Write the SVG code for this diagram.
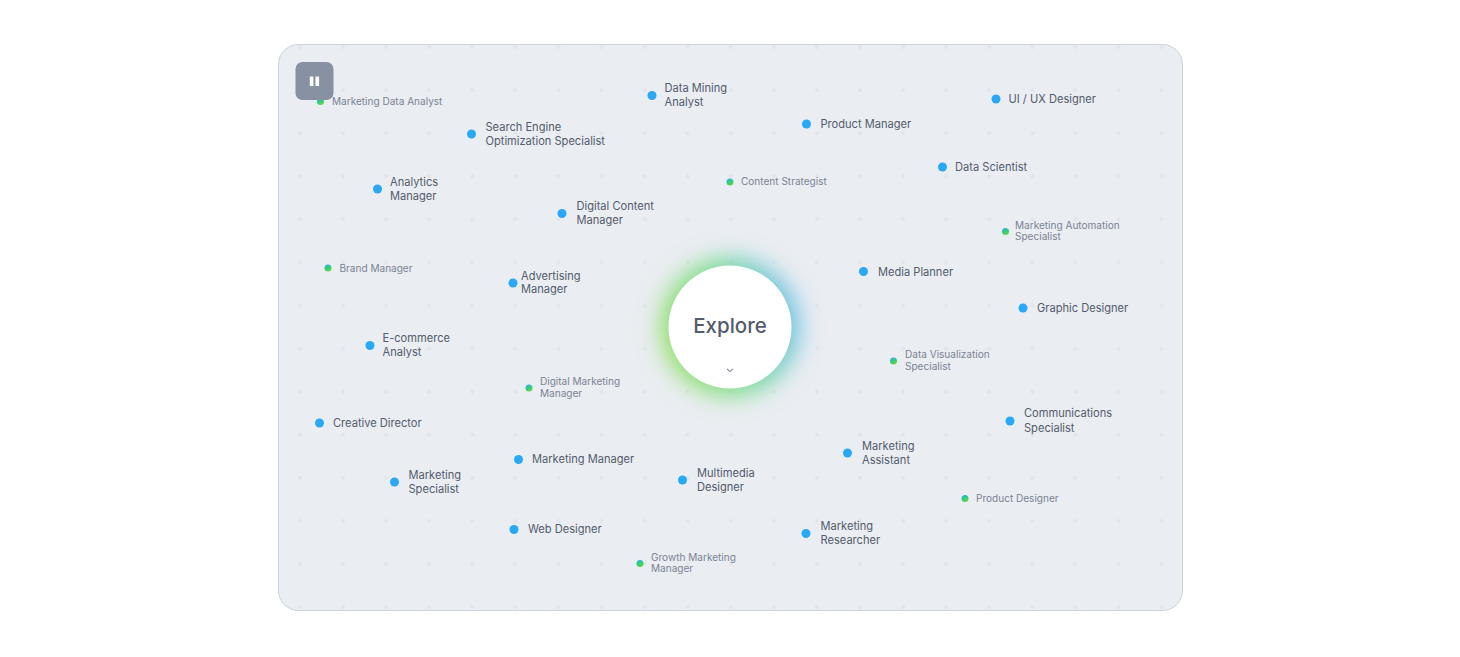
<svg xmlns="http://www.w3.org/2000/svg" width="1460" height="657" viewBox="0 0 1460 657">
<style>
text{font-family:"Inter","Roboto",sans-serif}
.b{font-size:11.1px;fill:#535c6c}
.s{font-size:10.05px;fill:#7b8494}
.d{fill:#2ba8f5}
.g{fill:url(#dg)}
</style>
<defs>
<pattern id="grid" patternUnits="userSpaceOnUse" x="278.5" y="25.5" width="43.08" height="43.08"><circle cx="21.5" cy="21.5" r="1.9" fill="#e1e4ea"/></pattern>
<linearGradient id="dg" x1="0.2" y1="0" x2="0.8" y2="1"><stop offset="0" stop-color="#2bb0e8"/><stop offset=".55" stop-color="#36d070"/><stop offset="1" stop-color="#6fd63c"/></linearGradient>
<linearGradient id="glow" x1="0" y1="0.7" x2="1" y2="0.4"><stop offset="0" stop-color="#8fe04f"/><stop offset=".55" stop-color="#6fdb8f"/><stop offset="1" stop-color="#5cb8f0"/></linearGradient>
<filter id="blur" x="-40%" y="-40%" width="180%" height="180%"><feGaussianBlur stdDeviation="12"/></filter>
</defs>
<g id="panel"><rect x="278.500" y="44.500" width="904" height="566" rx="20" fill="#eaedf2" stroke="#ccd1dd"/><rect x="279" y="45" width="903" height="565" rx="20" fill="url(#grid)"/></g>
<g id="connectors"/>
<g id="center"><circle cx="730" cy="327" r="68" fill="url(#glow)" filter="url(#blur)"/><circle cx="730" cy="327" r="61.500" fill="#fff"/><text x="730" y="333" text-anchor="middle" style="font-size:20.500px;font-weight:500;fill:#535c6c">Explore</text><path d="M727 368.800l3 2.800 3-2.800" fill="none" stroke="#7b8494" stroke-width="1.100"/></g>
<g id="n1"><circle class="g" cx="320.500" cy="101.500" r="3.500"/><text class="s" x="332" y="105">Marketing Data Analyst</text></g>
<g id="pause"><rect x="295.500" y="62" width="38" height="38" rx="7" fill="#8891a1"/><rect x="309.800" y="76.500" width="3.600" height="9.500" rx=".6" fill="#fff"/><rect x="315.500" y="76.500" width="3.600" height="9.500" rx=".6" fill="#fff"/></g>
<g id="n2"><circle class="d" cx="471.500" cy="134" r="4.500"/><text class="b" x="485.500" y="131">Search Engine</text><text class="b" x="485.500" y="144.500">Optimization Specialist</text></g>
<g id="n3"><circle class="d" cx="652" cy="95.500" r="4.500"/><text class="b" x="664.500" y="92">Data Mining</text><text class="b" x="664.500" y="106">Analyst</text></g>
<g id="n4"><circle class="d" cx="806.500" cy="124" r="4.500"/><text class="b" x="820.500" y="127.500">Product Manager</text></g>
<g id="n5"><circle class="d" cx="996" cy="99" r="4.500"/><text class="b" x="1008.500" y="102.500">UI / UX Designer</text></g>
<g id="n6"><circle class="d" cx="942.500" cy="167" r="4.500"/><text class="b" x="955" y="170.500">Data Scientist</text></g>
<g id="n7"><circle class="g" cx="730" cy="182" r="3.500"/><text class="s" x="741" y="185">Content Strategist</text></g>
<g id="n8"><circle class="d" cx="377.500" cy="189" r="4.500"/><text class="b" x="390" y="186">Analytics</text><text class="b" x="390" y="199.500">Manager</text></g>
<g id="n9"><circle class="d" cx="562" cy="213.500" r="4.500"/><text class="b" x="576.500" y="210">Digital Content</text><text class="b" x="576.500" y="224">Manager</text></g>
<g id="n10"><circle class="g" cx="1005.500" cy="231.500" r="3.500"/><text class="s" x="1015" y="229">Marketing Automation</text><text class="s" x="1015" y="240">Specialist</text></g>
<g id="n11"><circle class="g" cx="328" cy="268" r="3.500"/><text class="s" x="339.500" y="271.500">Brand Manager</text></g>
<g id="n12"><circle class="d" cx="513" cy="283" r="4.500"/><text class="b" x="521" y="279.500">Advertising</text><text class="b" x="521" y="293">Manager</text></g>
<g id="n13"><circle class="d" cx="863.500" cy="271.500" r="4.500"/><text class="b" x="878" y="275.500">Media Planner</text></g>
<g id="n14"><circle class="d" cx="1023" cy="308" r="4.500"/><text class="b" x="1037" y="312">Graphic Designer</text></g>
<g id="n15"><circle class="d" cx="370" cy="345.500" r="4.500"/><text class="b" x="382.500" y="342">E-commerce</text><text class="b" x="382.500" y="356">Analyst</text></g>
<g id="n16"><circle class="g" cx="893.500" cy="361" r="3.500"/><text class="s" x="905" y="358">Data Visualization</text><text class="s" x="905" y="369.500">Specialist</text></g>
<g id="n17"><circle class="g" cx="529" cy="388" r="3.500"/><text class="s" x="540" y="384.500">Digital Marketing</text><text class="s" x="540" y="396.500">Manager</text></g>
<g id="n18"><circle class="d" cx="319.500" cy="423" r="4.500"/><text class="b" x="333" y="426.500">Creative Director</text></g>
<g id="n19"><circle class="d" cx="1010" cy="421" r="4.500"/><text class="b" x="1024" y="417">Communications</text><text class="b" x="1024" y="431.500">Specialist</text></g>
<g id="n20"><circle class="d" cx="847.500" cy="453" r="4.500"/><text class="b" x="862" y="450">Marketing</text><text class="b" x="862" y="463.500">Assistant</text></g>
<g id="n21"><circle class="d" cx="518.500" cy="459.500" r="4.500"/><text class="b" x="532" y="463">Marketing Manager</text></g>
<g id="n22"><circle class="d" cx="394.500" cy="482" r="4.500"/><text class="b" x="408.500" y="478.500">Marketing</text><text class="b" x="408.500" y="492.500">Specialist</text></g>
<g id="n23"><circle class="d" cx="682.500" cy="480" r="4.500"/><text class="b" x="697" y="476.500">Multimedia</text><text class="b" x="697" y="490.500">Designer</text></g>
<g id="n24"><circle class="g" cx="965" cy="498.500" r="3.500"/><text class="s" x="976" y="501.500">Product Designer</text></g>
<g id="n25"><circle class="d" cx="514" cy="529.500" r="4.500"/><text class="b" x="528" y="533">Web Designer</text></g>
<g id="n26"><circle class="d" cx="806" cy="533.500" r="4.500"/><text class="b" x="820.500" y="530">Marketing</text><text class="b" x="820.500" y="544">Researcher</text></g>
<g id="n27"><circle class="g" cx="640" cy="563.500" r="3.500"/><text class="s" x="651" y="561">Growth Marketing</text><text class="s" x="651" y="572">Manager</text></g>
</svg>
